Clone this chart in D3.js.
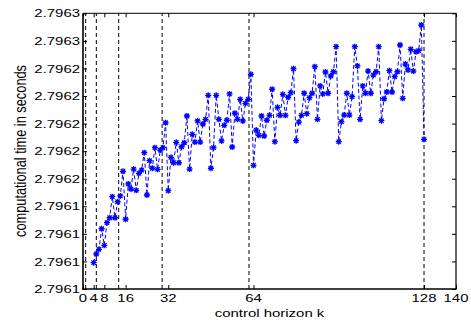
<!DOCTYPE html>
<html>
<head>
<meta charset="utf-8">
<script src="https://cdn.jsdelivr.net/npm/d3@7"></script>
<style>
  html, body { margin: 0; padding: 0; background: #fff; }
  svg { display: block; }
  text { font-family: "Liberation Sans", Arial, Helvetica, sans-serif; fill: #000; }
</style>
</head>
<body>
<div id="chart"></div>
<script>
// control horizon k (one run per horizon, 4..128)
const horizon = d3.range(4, 129);
// computational time in seconds
const compTime = [
  2.7960991, 2.7961054, 2.7961088, 2.7961237, 2.7961117, 2.7961281, 2.7961317, 2.7961470, 2.7961317, 2.7961433,
  2.7961475, 2.7961654, 2.7961306, 2.7961562, 2.7961525, 2.7961670, 2.7961516, 2.7961639, 2.7961663, 2.7961789,
  2.7961482, 2.7961731, 2.7961676, 2.7961825, 2.7961668, 2.7961808, 2.7961825, 2.7962006, 2.7961513, 2.7961755,
  2.7961716, 2.7961864, 2.7961716, 2.7961832, 2.7961861, 2.7962055, 2.7961670, 2.7961922, 2.7961866, 2.7962019,
  2.7961866, 2.7961997, 2.7962031, 2.7962205, 2.7961676, 2.7961825, 2.7962205, 2.7962031, 2.7961874, 2.7961987,
  2.7962024, 2.7962215, 2.7961830, 2.7962075, 2.7962031, 2.7962176, 2.7962019, 2.7962147, 2.7962176, 2.7962357,
  2.7961697, 2.7961953, 2.7961915, 2.7962055, 2.7961910, 2.7962024, 2.7962060, 2.7962249, 2.7961869, 2.7962118,
  2.7962060, 2.7962212, 2.7962060, 2.7962191, 2.7962224, 2.7962398, 2.7961876, 2.7962011, 2.7962060, 2.7962220,
  2.7962072, 2.7962188, 2.7962220, 2.7962413, 2.7962031, 2.7962273, 2.7962215, 2.7962374, 2.7962220, 2.7962345,
  2.7962376, 2.7962558, 2.7961869, 2.7962014, 2.7962062, 2.7962220, 2.7962062, 2.7962195, 2.7962558, 2.7962418,
  2.7962031, 2.7962273, 2.7962220, 2.7962381, 2.7962220, 2.7962352, 2.7962376, 2.7962558, 2.7962021, 2.7962180,
  2.7962229, 2.7962384, 2.7962229, 2.7962340, 2.7962376, 2.7962570, 2.7962183, 2.7962432, 2.7962389, 2.7962539,
  2.7962381, 2.7962521, 2.7962529, 2.7962715, 2.7961886
];
const xTicks = [0, 4, 8, 16, 32, 64, 128, 140];
const xTickLabels = ["0", "4", "8", "16", "32", "64", "128", "140"];
const yTicks = [2.79608, 2.79610, 2.79612, 2.79614, 2.79616, 2.79618, 2.79620, 2.79622, 2.79624, 2.79626, 2.79628];
const yTickLabels = ["2.7961", "2.7961", "2.7961", "2.7961", "2.7962", "2.7962", "2.7962", "2.7962", "2.7962", "2.7963", "2.7963"];
const guideLines = [1, 5, 13.4, 29.7, 62.3, 128];
const xLabel = "control horizon k";
const yLabel = "computational time in seconds";

(function () {
const W = 471, H = 322;
const pLeft = 83, pRight = 456, pTop = 13.3, pBottom = 289;
const stretch = 1.3;

const svg = d3.select("#chart").append("svg").attr("width", W).attr("height", H);

const x = d3.scaleLinear().domain([0, 140]).range([pLeft, pRight]);
const y = d3.scaleLinear().domain([yTicks[0], yTicks[yTicks.length - 1]]).range([pBottom, pTop]);

// guide dashed vertical lines
svg.append("g").selectAll("line").data(guideLines).join("line")
  .attr("x1", d => x(d)).attr("x2", d => x(d))
  .attr("y1", pBottom).attr("y2", pTop)
  .attr("stroke", "#000").attr("stroke-width", 1)
  .attr("stroke-dasharray", "4,3");

// axes box with inward ticks
const axG = svg.append("g");
axG.append("g").attr("transform", `translate(0,${pBottom})`)
  .call(d3.axisBottom(x).tickValues(xTicks).tickSize(-4).tickFormat(""))
  .call(g => g.select(".domain").remove());
axG.append("g").attr("transform", `translate(0,${pTop})`)
  .call(d3.axisTop(x).tickValues(xTicks).tickSize(-4).tickFormat(""))
  .call(g => g.select(".domain").remove());
axG.append("g").attr("transform", `translate(${pLeft},0)`)
  .call(d3.axisLeft(y).tickValues(yTicks).tickSize(-4).tickFormat(""))
  .call(g => g.select(".domain").remove());
axG.append("g").attr("transform", `translate(${pRight},0)`)
  .call(d3.axisRight(y).tickValues(yTicks).tickSize(-4).tickFormat(""))
  .call(g => g.select(".domain").remove());
axG.selectAll(".tick line").attr("stroke", "#000").attr("stroke-width", 1);

axG.append("line").attr("x1", pLeft).attr("x2", pRight).attr("y1", pTop).attr("y2", pTop).attr("stroke", "#000").attr("stroke-width", 1);
axG.append("line").attr("x1", pRight).attr("x2", pRight).attr("y1", pTop).attr("y2", pBottom).attr("stroke", "#000").attr("stroke-width", 1.2);
axG.append("line").attr("x1", pLeft - 0.8).attr("x2", pRight + 0.6).attr("y1", pBottom).attr("y2", pBottom).attr("stroke", "#000").attr("stroke-width", 1.6);
axG.append("line").attr("x1", pLeft).attr("x2", pLeft).attr("y1", pTop).attr("y2", pBottom + 0.8).attr("stroke", "#000").attr("stroke-width", 1.6);

// tick labels (horizontally stretched like the reference)
svg.append("g").selectAll("text").data(yTicks).join("text")
  .attr("transform", d => `translate(${pLeft - 3},${y(d)}) scale(${stretch},1)`)
  .attr("text-anchor", "end").attr("dy", "0.36em")
  .attr("font-size", 11.5)
  .text((d, i) => yTickLabels[i]);

svg.append("g").selectAll("text").data(xTicks).join("text")
  .attr("transform", d => `translate(${x(d)},${pBottom + 13.3}) scale(${stretch},1)`)
  .attr("text-anchor", "middle")
  .attr("font-size", 11.5)
  .text((d, i) => xTickLabels[i]);

// axis titles
svg.append("text")
  .attr("transform", `translate(${(pLeft + pRight) / 2},316.5) scale(${stretch},1)`)
  .attr("text-anchor", "middle").attr("font-size", 11.5)
  .text(xLabel);
svg.append("text")
  .attr("transform", `translate(25.5,151) scale(${stretch},1) rotate(-90)`)
  .attr("text-anchor", "middle").attr("font-size", 12.8)
  .text(yLabel);

// data series: dashed blue line with asterisk markers
const pts = horizon.map((k, i) => [k, compTime[i]]);
svg.append("path").datum(pts)
  .attr("fill", "none").attr("stroke", "#0000ff").attr("stroke-width", 1)
  .attr("stroke-dasharray", "4,2.5")
  .attr("d", d3.line().x(d => x(d[0])).y(d => y(d[1])));

const star = "M-3,0H3M0,-3V3M-2.2,-2.2L2.2,2.2M-2.2,2.2L2.2,-2.2";
svg.append("g").selectAll("path").data(pts).join("path")
  .attr("transform", d => `translate(${x(d[0])},${y(d[1])})`)
  .attr("d", star)
  .attr("fill", "none").attr("stroke", "#0000ff").attr("stroke-width", 1.3);
})();
</script>
</body>
</html>
